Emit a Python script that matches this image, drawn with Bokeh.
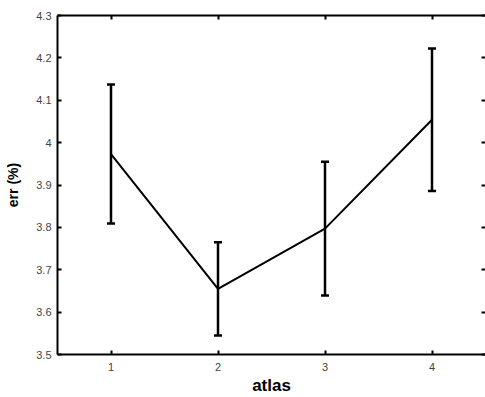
from bokeh.plotting import figure
from bokeh.models import (Range1d, LinearAxis, FixedTicker, Whisker, ColumnDataSource,
                          TeeHead, CustomLabelingPolicy)
from bokeh.embed import file_html
from bokeh.resources import INLINE

# data
atlas = [1, 2, 3, 4]
err_mean = [3.973, 3.655, 3.797, 4.054]
err_sd = [0.164, 0.110, 0.158, 0.168]
x_ticks = [1, 2, 3, 4]
y_ticks = [3.5, 3.6, 3.7, 3.8, 3.9, 4.0, 4.1, 4.2, 4.3]
y_tick_labels = ["3.5", "3.6", "3.7", "3.8", "3.9", "4", "4.1", "4.2", "4.3"]

src = ColumnDataSource(dict(
    x=atlas, y=err_mean,
    lower=[m - s for m, s in zip(err_mean, err_sd)],
    upper=[m + s for m, s in zip(err_mean, err_sd)],
))

FONT = "Liberation Sans"

p = figure(width=485, height=397, output_backend="svg", toolbar_location=None,
           x_range=Range1d(0.5, 4.5), y_range=Range1d(3.5, 4.3),
           min_border_left=57, min_border_right=0, min_border_top=15, min_border_bottom=43,
           x_axis_label="atlas", y_axis_label="err (%)")
p.outline_line_color = None
p.grid.visible = False
p.background_fill_color = "white"
p.border_fill_color = "white"

def style_axis(ax, labels=True):
    ax.axis_line_width = 2
    ax.axis_line_color = "black"
    ax.major_tick_in = 4
    ax.major_tick_out = 0
    ax.major_tick_line_width = 2
    ax.major_tick_line_color = "black"
    ax.minor_tick_line_color = None
    ax.major_label_text_font = FONT
    ax.major_label_text_color = "#444444"
    if labels:
        ax.major_label_text_font_size = "11px"
        ax.major_label_standoff = 6
    else:
        ax.major_label_text_font_size = "0px"
        ax.major_label_standoff = 0
        ax.major_label_policy = CustomLabelingPolicy(code="return []")
    ax.axis_label_text_font = FONT
    ax.axis_label_text_font_style = "bold"
    ax.axis_label_text_color = "black"

xa = p.xaxis[0]
ya = p.yaxis[0]
xa.ticker = FixedTicker(ticks=x_ticks)
ya.ticker = FixedTicker(ticks=y_ticks)
ya.major_label_overrides = {v: l for v, l in zip(y_ticks, y_tick_labels)}
style_axis(xa)
style_axis(ya)
xa.major_label_standoff = 8
xa.axis_label_text_font_size = "17px"
xa.axis_label_standoff = 2
ya.axis_label_text_font_size = "14px"
ya.axis_label_standoff = 12

top = LinearAxis(ticker=FixedTicker(ticks=x_ticks))
style_axis(top, labels=False)
p.add_layout(top, "above")
right = LinearAxis(ticker=FixedTicker(ticks=y_ticks))
style_axis(right, labels=False)
right.axis_line_color = None
p.add_layout(right, "right")

p.line("x", "y", source=src, line_color="black", line_width=2)
w = Whisker(base="x", lower="lower", upper="upper", source=src,
            line_color="black", line_width=2.5,
            upper_head=TeeHead(size=8, line_width=2.5, line_color="black"),
            lower_head=TeeHead(size=8, line_width=2.5, line_color="black"))
p.add_layout(w)

open("out.html", "w").write(file_html(p, INLINE))
